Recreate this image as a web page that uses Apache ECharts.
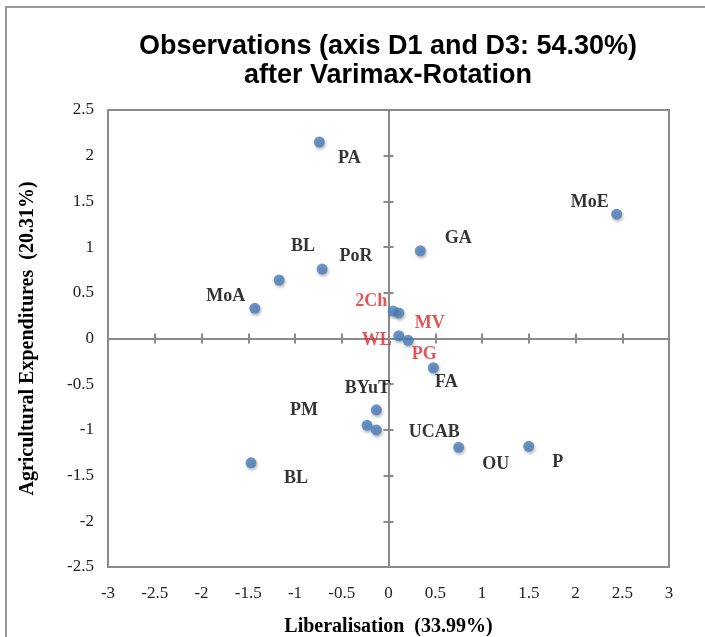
<!DOCTYPE html>
<html>
<head>
<meta charset="utf-8">
<script src="https://cdn.jsdelivr.net/npm/echarts@6/dist/echarts.min.js"></script>
<style>
  html, body { margin: 0; padding: 0; background: #fff; }
  #chart { width: 705px; height: 637px; }
</style>
</head>
<body>
<div id="chart"></div>
<script>
// Observation scores on the rotated axes D1 (x) and D3 (y)
const names   = ['PA', 'MoE', 'GA', 'PoR', 'BL', 'MoA', '2Ch', 'MV', 'WL', 'PG', 'FA', 'BYuT', 'PM', 'UCAB', 'OU', 'P', 'BL'];
const xValues = [-0.74, 2.44, 0.34, -0.71, -1.17, -1.43, 0.05, 0.11, 0.11, 0.21, 0.48, -0.13, -0.23, -0.13, 0.75, 1.50, -1.47];
const yValues = [2.15, 1.36, 0.96, 0.76, 0.64, 0.33, 0.30, 0.28, 0.03, -0.02, -0.32, -0.78, -0.95, -1.00, -1.19, -1.18, -1.36];

// Observations whose labels are drawn in red
const redLabels = ['2Ch', 'MV', 'WL', 'PG'];

// Axis tick values
const xTicks = [-3, -2.5, -2, -1.5, -1, -0.5, 0, 0.5, 1, 1.5, 2, 2.5, 3];
const yTicks = [-2.5, -2, -1.5, -1, -0.5, 0, 0.5, 1, 1.5, 2, 2.5];

// Label placement relative to each point, in pixels [dx, dy]
const labelOffsets = [
  [30, 16], [-27, -12], [38, -12], [34, -13], [24, -34], [-29, -12],
  [-22, -10], [31, 10], [-22, 5], [16, 14], [13, 15], [-9, -21],
  [-63, -15], [58, 2], [37, 17], [29, 16], [45, 16]
];

const gridLine = { color: '#8a8a8a', width: 2 };
const serif = 'Liberation Serif, Times New Roman, serif';

const points = names.map((n, i) => ({
  name: n,
  value: [xValues[i], yValues[i]],
  label: {
    show: true,
    position: 'inside',
    offset: labelOffsets[i],
    formatter: n,
    color: redLabels.includes(n) ? '#de2a2e' : '#000',
    fontFamily: serif,
    fontWeight: 'bold',
    fontSize: 18
  }
}));

function zeroAxis(dimTicks, inside, position) {
  return {
    type: 'value',
    min: dimTicks[0],
    max: dimTicks[dimTicks.length - 1],
    interval: 0.5,
    position: position,
    axisLine: { show: true, onZero: true, onZeroAxisIndex: 0, lineStyle: gridLine },
    axisTick: { show: true, inside: inside, length: 5, lineStyle: gridLine },
    axisLabel: { show: false },
    splitLine: { show: false }
  };
}

const chart = echarts.init(document.getElementById('chart'), null, { renderer: 'canvas' });

chart.setOption({
  animation: false,
  backgroundColor: '#fff',
  title: {
    text: 'Observations (axis D1 and D3: 54.30%)\nafter Varimax-Rotation',
    left: 383,
    top: 27,
    textAlign: 'center',
    textStyle: {
      fontFamily: 'Liberation Sans, Arial, sans-serif',
      fontWeight: 'bold',
      fontSize: 27,
      lineHeight: 29,
      color: '#000'
    }
  },
  graphic: [{
    type: 'rect',
    shape: { x: 6, y: 7, width: 760, height: 700 },
    style: { fill: 'none', stroke: '#9a9a9a', lineWidth: 2 },
    silent: true,
    z: -1
  }],
  grid: {
    left: 108, right: 36, top: 110, bottom: 70,
    outerBoundsMode: 'none',
    containLabel: false,
    show: true,
    borderColor: '#8a8a8a',
    borderWidth: 2,
    backgroundColor: '#fff'
  },
  xAxis: [
    {
      type: 'value',
      min: xTicks[0],
      max: xTicks[xTicks.length - 1],
      interval: 0.5,
      position: 'bottom',
      axisLine: { show: false, onZero: false },
      axisTick: { show: false },
      splitLine: { show: false },
      axisLabel: { fontFamily: serif, fontSize: 17, color: '#222', margin: 18 },
      name: 'Liberalisation  (33.99%)',
      nameLocation: 'middle',
      nameGap: 50,
      nameTextStyle: { fontFamily: serif, fontWeight: 'bold', fontSize: 20, color: '#000' }
    },
    zeroAxis(xTicks, false, 'bottom'),
    zeroAxis(xTicks, true, 'bottom')
  ],
  yAxis: [
    {
      type: 'value',
      min: yTicks[0],
      max: yTicks[yTicks.length - 1],
      interval: 0.5,
      position: 'left',
      axisLine: { show: false, onZero: false },
      axisTick: { show: false },
      splitLine: { show: false },
      axisLabel: { fontFamily: serif, fontSize: 17, color: '#222', margin: 14 },
      name: 'Agricultural Expenditures  (20.31%)',
      nameLocation: 'middle',
      nameGap: 70,
      nameTextStyle: { fontFamily: serif, fontWeight: 'bold', fontSize: 20, color: '#000' }
    },
    zeroAxis(yTicks, false, 'left'),
    zeroAxis(yTicks, true, 'left')
  ],
  series: [{
    type: 'scatter',
    xAxisIndex: 0,
    yAxisIndex: 0,
    symbol: 'circle',
    symbolSize: 11,
    itemStyle: {
      color: '#4a7ebb',
      shadowBlur: 3,
      shadowOffsetX: 1,
      shadowOffsetY: 2,
      shadowColor: 'rgba(0,0,0,0.35)'
    },
    data: points
  }]
});
</script>
</body>
</html>
